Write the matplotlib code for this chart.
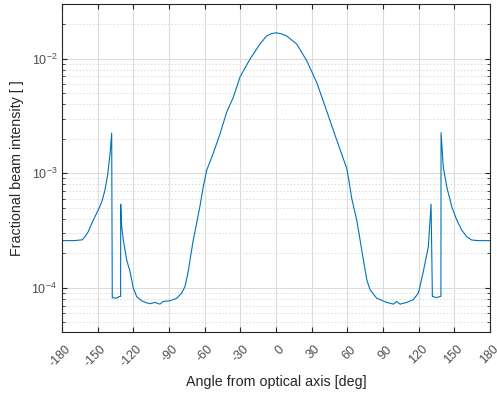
import matplotlib
matplotlib.use("Agg")
import matplotlib.pyplot as plt
from matplotlib.ticker import LogLocator, NullFormatter
from matplotlib.transforms import ScaledTranslation

angle_deg = [-180, -170, -163, -160.7, -157.9, -153.7, -149.5, -146.6, -144, -141.5,
             -139.5, -138.2, -137.7, -137.6, -134, -131.8, -130.7, -130.6, -129.8, -128.4,
             -125.6, -122.8, -120, -117.2, -113, -109, -106, -101.8, -97.6, -94.8,
             -89.2, -83.5, -79.3, -76.5, -73.8, -72.3, -69.6, -68.1, -63.9, -61,
             -58.3, -55.5, -52.7, -47.1, -41.5, -35.9, -30.3, -21.9, -13.5, -7.8,
             -3.8, 0, 4, 8.9, 17.4, 25.8, 34.2, 42.6, 51.1, 59.5,
             61.6, 63.7, 67.9, 70.7, 73.5, 76.4, 79.1, 84.7, 93.1, 98.7,
             101.5, 104.3, 110, 115.5, 119.7, 121.1, 123.9, 128.1, 130.4, 131.5,
             131.6, 135, 138, 138.7, 138.8, 140.7, 143.6, 147.8, 152, 156.2,
             160.4, 164.6, 170, 180]
intensity = [2.58e-4, 2.58e-4, 2.62e-4, 2.79e-4, 3.09e-4, 3.9e-4, 4.77e-4, 5.6e-4, 7.0e-4, 9.8e-4,
             1.5e-3, 2.24e-3, 8.2e-5, 8.2e-5, 8.1e-5, 8.4e-5, 8.4e-5, 5.37e-4, 3.41e-4, 2.61e-4,
             1.75e-4, 1.39e-4, 9.9e-5, 8.4e-5, 7.7e-5, 7.4e-5, 7.26e-5, 7.45e-5, 7.2e-5, 7.6e-5,
             7.7e-5, 8.1e-5, 9.0e-5, 1.03e-4, 1.39e-4, 1.75e-4, 2.61e-4, 3.1e-4, 5.2e-4, 7.8e-4,
             1.06e-3, 1.26e-3, 1.5e-3, 2.2e-3, 3.4e-3, 4.6e-3, 6.9e-3, 9.9e-3, 1.34e-2, 1.58e-2,
             1.65e-2, 1.68e-2, 1.65e-2, 1.58e-2, 1.34e-2, 9.6e-3, 6.2e-3, 3.5e-3, 1.94e-3, 1.1e-3,
             8.3e-4, 6.0e-4, 3.9e-4, 2.61e-4, 1.75e-4, 1.17e-4, 9.6e-5, 8.1e-5, 7.45e-5, 7.2e-5,
             7.6e-5, 7.2e-5, 7.45e-5, 7.87e-5, 9.0e-5, 1.03e-4, 1.39e-4, 2.28e-4, 5.37e-4, 8.4e-5,
             8.4e-5, 8.2e-5, 8.4e-5, 8.4e-5, 2.26e-3, 1.13e-3, 7.6e-4, 5.1e-4, 3.9e-4, 3.19e-4,
             2.79e-4, 2.61e-4, 2.58e-4, 2.58e-4]

x_ticks = [-180, -150, -120, -90, -60, -30, 0, 30, 60, 90, 120, 150, 180]
x_ticklabels = ["-180", "-150", "-120", "-90", "-60", "-30", "0", "30", "60", "90", "120", "150", "180"]

plt.rcParams['font.family'] = ['Liberation Sans', 'DejaVu Sans']
plt.rcParams['mathtext.fontset'] = 'custom'
plt.rcParams['mathtext.rm'] = 'Liberation Sans'
plt.rcParams['mathtext.it'] = 'Liberation Sans'
plt.rcParams['mathtext.default'] = 'regular'

axcol = '#262626'
fig = plt.figure(figsize=(4.97, 3.94), dpi=100)
ax = fig.add_axes([0.1247, 0.157, 0.8613, 0.833])
ax.plot(angle_deg, intensity, color='#0072BD', lw=0.8)
ax.set_yscale('log')
ax.set_xlim(-180, 180)
ax.set_ylim(4.1e-5, 3e-2)
ax.set_xticks(x_ticks)
ax.set_xticklabels(x_ticklabels, rotation=45, ha='right', va='top')
ax.yaxis.set_major_locator(LogLocator(base=10, numticks=10))
ax.yaxis.set_minor_locator(LogLocator(base=10, subs=range(2, 10), numticks=20))
ax.yaxis.set_minor_formatter(NullFormatter())

ax.grid(True, which='major', color='#dcdcdc', lw=0.8, ls='-')
ax.grid(True, which='minor', axis='y', color='#dcdcdc', lw=0.7, ls=(0, (1.5, 2)))
ax.set_axisbelow(True)

for s in ax.spines.values():
    s.set_color(axcol)
    s.set_linewidth(0.8)
ax.tick_params(which='both', direction='in', top=True, right=True, colors=axcol,
               labelcolor='#4d4d4d', labelsize=9)
ax.tick_params(axis='x', which='major', pad=8)
ax.tick_params(which='major', length=3.5)
ax.tick_params(which='minor', length=2)

offset = ScaledTranslation(11 / 100, 0, fig.dpi_scale_trans)
for tick in ax.xaxis.get_major_ticks():
    tick.label1.set_transform(tick.label1.get_transform() + offset)

ax.set_xlabel('Angle from optical axis [deg]', fontsize=10.3, color='#262626', labelpad=4)
ax.set_ylabel('Fractional beam intensity [ ]', fontsize=10.3, color='#262626', labelpad=5)

fig.savefig('out.png', dpi=100)
